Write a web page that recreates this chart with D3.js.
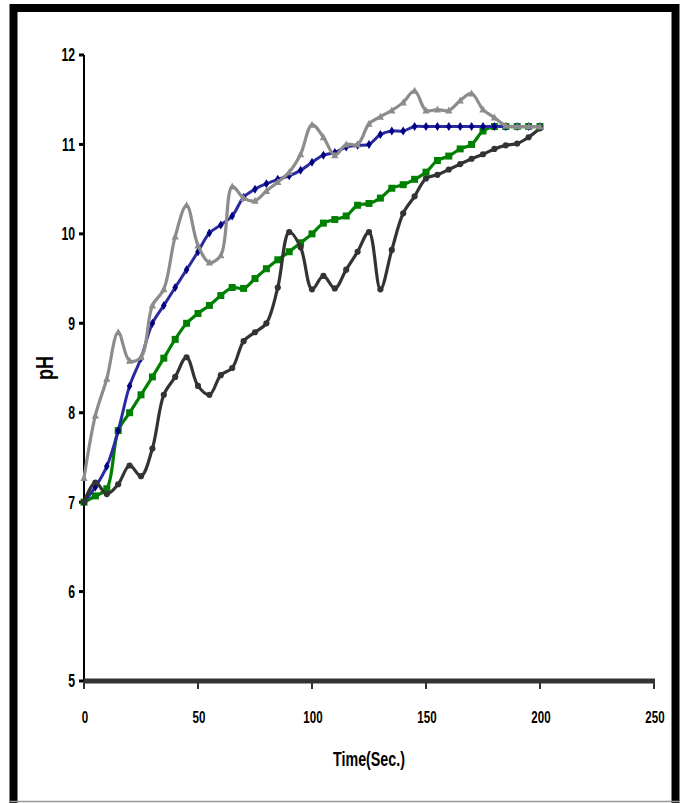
<!DOCTYPE html>
<html>
<head>
<meta charset="utf-8">
<script src="https://cdn.jsdelivr.net/npm/d3@7"></script>
<style>
  html, body { margin: 0; padding: 0; background: #fff; }
  svg { display: block; }
  text { font-family: "Liberation Sans", Arial, sans-serif; font-weight: bold; fill: #000; }
</style>
</head>
<body>
<svg id="chart" width="688" height="803"></svg>
<script>
const times = [0,5,10,15,20,25,30,35,40,45,50,55,60,65,70,75,80,85,90,95,100,105,110,115,120,125,130,135,140,145,150,155,160,165,170,175,180,185,190,195,200];

const grayValues = [7.27,7.97,8.38,8.9,8.58,8.62,9.2,9.38,9.97,10.32,9.87,9.68,9.76,10.53,10.4,10.37,10.48,10.58,10.69,10.89,11.22,11.08,10.88,11.0,11.0,11.23,11.31,11.38,11.47,11.6,11.38,11.39,11.38,11.49,11.57,11.39,11.3,11.21,11.2,11.2,11.2];
const blueValues = [7.0,7.17,7.4,7.8,8.3,8.61,9.0,9.2,9.4,9.6,9.8,10.01,10.1,10.2,10.41,10.5,10.56,10.61,10.65,10.71,10.8,10.88,10.91,10.97,10.99,11.0,11.11,11.15,11.15,11.2,11.2,11.2,11.2,11.2,11.2,11.2,11.2,11.2,11.2,11.2,11.2];
const greenValues = [7.0,7.07,7.15,7.8,8.0,8.2,8.4,8.61,8.82,9.0,9.11,9.2,9.31,9.4,9.39,9.5,9.61,9.71,9.8,9.9,10.0,10.12,10.16,10.2,10.32,10.34,10.4,10.51,10.55,10.61,10.69,10.82,10.87,10.95,11.0,11.15,11.2,11.2,11.2,11.2,11.2];
const blackValues = [7.0,7.22,7.09,7.2,7.41,7.29,7.6,8.2,8.4,8.62,8.3,8.2,8.42,8.5,8.8,8.9,9.0,9.4,10.02,9.85,9.38,9.53,9.39,9.6,9.8,10.02,9.38,9.82,10.23,10.42,10.62,10.66,10.72,10.78,10.84,10.89,10.95,10.99,11.01,11.08,11.18];

const xTicks = [0,50,100,150,200,250];
const yTicks = [5,6,7,8,9,10,11,12];
const xTitle = "Time(Sec.)";
const yTitle = "pH";

const svg = d3.select("#chart");
const SX = 0.68;

// outer frame
svg.append("rect").attr("x",13.5).attr("y",8).attr("width",662).attr("height",820)
  .attr("fill","none").attr("stroke","#000").attr("stroke-width",8);
svg.append("line").attr("x1",10).attr("x2",680).attr("y1",801.5).attr("y2",801.5)
  .attr("stroke","#999").attr("stroke-width",1.5);

const x = d3.scaleLinear().domain([0,250]).range([84,654]);
const y = d3.scaleLinear().domain([5,12]).range([681,55]);

// y axis
svg.append("line").attr("x1",84).attr("x2",84).attr("y1",55).attr("y2",681)
  .attr("stroke","#000").attr("stroke-width",2);
const yg = svg.append("g");
yg.selectAll("line").data(yTicks).join("line")
  .attr("x1",79).attr("x2",84).attr("y1",d=>y(d)).attr("y2",d=>y(d))
  .attr("stroke","#000").attr("stroke-width",3);
yg.selectAll("text").data(yTicks).join("text")
  .attr("transform",d=>`translate(75,${y(d)}) scale(${SX},1)`).attr("dy","0.36em")
  .attr("text-anchor","end").attr("font-size",18).text(d=>d);

// x axis
svg.append("line").attr("x1",84).attr("x2",655).attr("y1",681).attr("y2",681)
  .attr("stroke","#333").attr("stroke-width",5);
const xg = svg.append("g");
xg.selectAll("line").data(xTicks).join("line")
  .attr("x1",d=>x(d)).attr("x2",d=>x(d)).attr("y1",681).attr("y2",689)
  .attr("stroke","#333").attr("stroke-width",2);
xg.selectAll("text").data(xTicks).join("text")
  .attr("transform",d=>`translate(${x(d)+1},717) scale(${SX},1)`).attr("dy","0.36em")
  .attr("text-anchor","middle").attr("font-size",17).text(d=>d);

svg.append("text").attr("transform",`translate(369,758) scale(${SX},1)`).attr("dy","0.36em")
  .attr("text-anchor","middle").attr("font-size",21).text(xTitle);
svg.append("text").attr("transform",`translate(44,368) rotate(-90) scale(0.75,1)`)
  .attr("dy","0.36em").attr("text-anchor","middle").attr("font-size",24).text(yTitle);

const line = d3.line().x(d=>x(d[0])).y(d=>y(d[1])).curve(d3.curveCatmullRom.alpha(0.5));

const series = [
  {vals: greenValues, color:"#008000", width:3.2, marker:"square"},
  {vals: blueValues, color:"#2a2aa0", width:3, marker:"diamond", mcolor:"#000080"},
  {vals: blackValues, color:"#333333", width:3.2, marker:"circle"},
  {vals: grayValues, color:"#8c8c8c", width:3.2, marker:"triangle"}
];

series.forEach(s => {
  const pts = times.map((t,i)=>[t, s.vals[i]]);
  const g = svg.append("g");
  g.append("path").attr("d", line(pts)).attr("fill","none")
    .attr("stroke", s.color).attr("stroke-width", s.width).attr("stroke-linejoin","round");
  const mc = s.mcolor || s.color;
  const m = g.selectAll(".m").data(pts).join("path")
    .attr("transform", d=>`translate(${x(d[0])},${y(d[1])})`)
    .attr("fill", mc);
  if (s.marker === "square") m.attr("d","M-3.5,-3.5H3.5V3.5H-3.5Z");
  if (s.marker === "diamond") m.attr("d","M0,-4.5L2.8,0L0,4.5L-2.8,0Z");
  if (s.marker === "circle") m.attr("d", d3.symbol(d3.symbolCircle, 30)());
  if (s.marker === "triangle") m.attr("d","M0,-4L3.6,3L-3.6,3Z");
});
</script>
</body>
</html>
